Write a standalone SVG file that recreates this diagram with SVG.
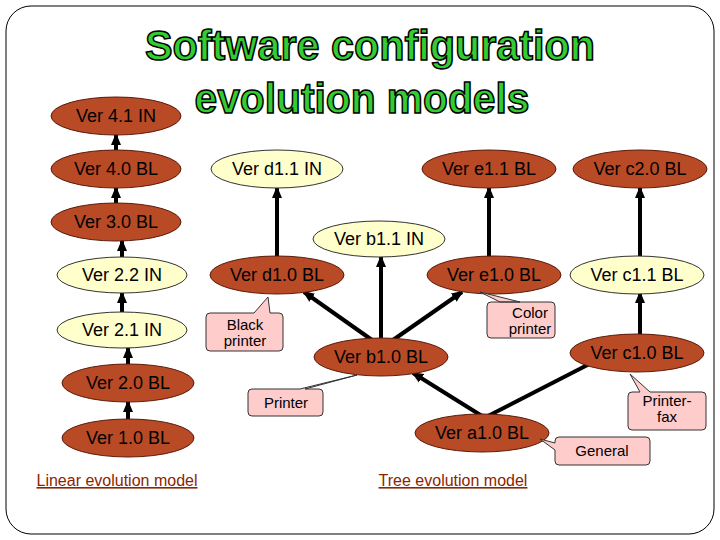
<svg xmlns="http://www.w3.org/2000/svg" width="720" height="540" viewBox="0 0 720 540">
<style>
.dk{fill:#B94A26;stroke:#5a1a0a;stroke-width:1}
.lt{fill:#FFFFCC;stroke:#333;stroke-width:1}
.t{font-family:"Liberation Sans",Arial,sans-serif;font-size:18px;text-anchor:middle;fill:#000}
.c{fill:#FFCCCC;stroke:#333;stroke-width:1}
.ct{font-family:"Liberation Sans",Arial,sans-serif;font-size:15px;text-anchor:middle;fill:#000}
.e{stroke:#000;stroke-width:4;fill:none;marker-end:url(#ah)}
.ttl{font-family:"Liberation Sans",Arial,sans-serif;font-weight:bold;font-size:42px;fill:#33CC33;stroke:#000;stroke-width:1.5;text-anchor:middle}
.sub{font-family:"Liberation Sans",Arial,sans-serif;font-size:16px;fill:#8B2500;text-anchor:middle;text-decoration:underline}
</style>
<defs><marker id="ah" markerUnits="userSpaceOnUse" markerWidth="12" markerHeight="12" refX="10" refY="6" orient="auto"><path d="M0,1L12,6L0,11z" fill="#000"/></marker></defs>
<rect x="6" y="6" width="708" height="528" rx="25" fill="#fff" stroke="#000" stroke-width="1"/>
<text class="ttl" x="370" y="60" textLength="450" lengthAdjust="spacingAndGlyphs">Software configuration</text>
<text class="ttl" x="362" y="113" textLength="335" lengthAdjust="spacingAndGlyphs">evolution models</text>
<g id="connectors">
<line class="e" x1="116" y1="152" x2="116" y2="135"/>
<line class="e" x1="116" y1="205" x2="116" y2="188"/>
<line class="e" x1="122" y1="258" x2="122" y2="241"/>
<line class="e" x1="122" y1="313" x2="122" y2="293"/>
<line class="e" x1="128" y1="365" x2="128" y2="348"/>
<line class="e" x1="128" y1="420" x2="128" y2="402"/>
<line class="e" x1="277" y1="257" x2="277" y2="188"/>
<line class="e" x1="489" y1="257" x2="489" y2="188"/>
<line class="e" x1="640" y1="257" x2="640" y2="188"/>
<line class="e" x1="381" y1="340" x2="381" y2="257"/>
<line class="e" x1="372" y1="340" x2="304" y2="292"/>
<line class="e" x1="393" y1="340" x2="462" y2="292"/>
<line class="e" x1="482" y1="416" x2="413" y2="373"/>
<line class="e" x1="488" y1="416" x2="603" y2="357"/>
<line class="e" x1="640" y1="335" x2="640" y2="293"/>
</g>
<g id="n41"><ellipse class="dk" cx="116" cy="116" rx="65" ry="19"/><text class="t" x="116" y="122">Ver 4.1 IN</text></g>
<g id="n40"><ellipse class="dk" cx="116" cy="169" rx="65" ry="19"/><text class="t" x="116" y="175">Ver 4.0 BL</text></g>
<g id="n30"><ellipse class="dk" cx="116" cy="222" rx="65" ry="19"/><text class="t" x="116" y="228">Ver 3.0 BL</text></g>
<g id="n22"><ellipse class="lt" cx="122" cy="275" rx="65" ry="18"/><text class="t" x="122" y="281">Ver 2.2 IN</text></g>
<g id="n21"><ellipse class="lt" cx="122" cy="330" rx="65" ry="18"/><text class="t" x="122" y="336">Ver 2.1 IN</text></g>
<g id="n20"><ellipse class="dk" cx="128" cy="383" rx="66" ry="19"/><text class="t" x="128" y="389">Ver 2.0 BL</text></g>
<g id="n10"><ellipse class="dk" cx="128" cy="438" rx="66" ry="19"/><text class="t" x="128" y="444">Ver 1.0 BL</text></g>
<g id="d11"><ellipse class="lt" cx="277" cy="169" rx="66" ry="19"/><text class="t" x="277" y="175">Ver d1.1 IN</text></g>
<g id="e11"><ellipse class="dk" cx="489" cy="169" rx="67" ry="19"/><text class="t" x="489" y="175">Ver e1.1 BL</text></g>
<g id="c20"><ellipse class="dk" cx="640" cy="169" rx="67" ry="19"/><text class="t" x="640" y="175">Ver c2.0 BL</text></g>
<g id="b11"><ellipse class="lt" cx="379" cy="239" rx="66" ry="18"/><text class="t" x="379" y="245">Ver b1.1 IN</text></g>
<g id="d10"><ellipse class="dk" cx="277" cy="275" rx="67" ry="19"/><text class="t" x="277" y="281">Ver d1.0 BL</text></g>
<g id="e10"><ellipse class="dk" cx="494" cy="275" rx="67" ry="19"/><text class="t" x="494" y="281">Ver e1.0 BL</text></g>
<g id="c11"><ellipse class="lt" cx="637" cy="275" rx="67" ry="19"/><text class="t" x="637" y="281">Ver c1.1 BL</text></g>
<g id="b10"><ellipse class="dk" cx="381" cy="357" rx="67" ry="19"/><text class="t" x="381" y="363">Ver b1.0 BL</text></g>
<g id="c10"><ellipse class="dk" cx="637" cy="353" rx="67" ry="19"/><text class="t" x="637" y="359">Ver c1.0 BL</text></g>
<g id="a10"><ellipse class="dk" cx="482" cy="433" rx="67" ry="19"/><text class="t" x="482" y="439">Ver a1.0 BL</text></g>
<g id="cb"><path class="c" d="M210,313H254L268,297L270,313H279Q283,313 283,317V347Q283,351 279,351H210Q206,351 206,347V317Q206,313 210,313Z"/><text class="ct" x="245" y="330">Black</text><text class="ct" x="245" y="346">printer</text></g>
<g id="cc"><path class="c" d="M491,302H520L480,292L500,302H551Q555,302 555,306V334Q555,338 551,338H491Q487,338 487,334V306Q487,302 491,302Z"/><text class="ct" x="530" y="318">Color</text><text class="ct" x="530" y="334">printer</text></g>
<g id="cp"><path class="c" d="M252,389H300L357,375L305,389H319Q323,389 323,393V412Q323,416 319,416H252Q248,416 248,412V393Q248,389 252,389Z"/><text class="ct" x="286" y="408">Printer</text></g>
<g id="cf"><path class="c" d="M632,392H640L630,374L650,392H702Q706,392 706,396V426Q706,430 702,430H632Q628,430 628,426V396Q628,392 632,392Z"/><text class="ct" x="667" y="406">Printer-</text><text class="ct" x="667" y="422">fax</text></g>
<g id="cg"><path class="c" d="M559,437H646Q650,437 650,441V461Q650,465 646,465H559Q555,465 555,461V450L540,439L555,443V441Q555,437 559,437Z"/><text class="ct" x="602" y="456">General</text></g>
<text class="sub" x="117" y="486">Linear evolution model</text>
<text class="sub" x="453" y="486">Tree evolution model</text>
</svg>
